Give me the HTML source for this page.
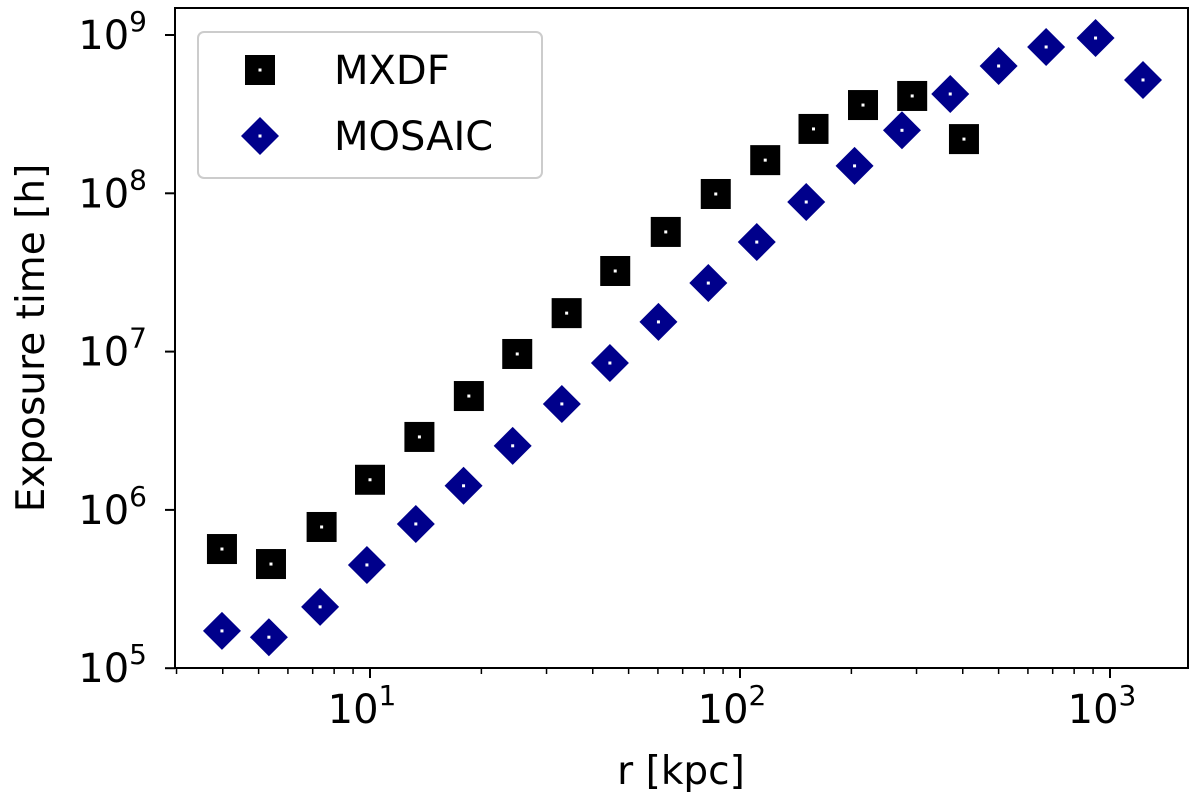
<!DOCTYPE html>
<html><head><meta charset="utf-8"><style>
body{margin:0;background:#fff;}
svg{display:block;font-family:"DejaVu Sans","Liberation Sans",sans-serif;}
</style></head><body>
<svg id="chart" width="1200" height="803"></svg>
<script>
const mxdfR=[3.98,5.4,7.4,10,13.6,18.5,25,34,46,63,86,117,158,215,292,403];
const mxdfT=[5.66e5,4.55e5,7.8e5,1.55e6,2.89e6,5.24e6,9.66e6,1.75e7,3.23e7,5.7e7,9.9e7,1.62e8,2.55e8,3.61e8,4.12e8,2.2e8];
const mosR=[3.98,5.33,7.33,9.81,13.3,17.9,24.3,33.0,44.5,60.2,82.1,111,151,204,274,370,500,672,914,1228];
const mosT=[1.72e5,1.57e5,2.44e5,4.49e5,8.15e5,1.42e6,2.54e6,4.67e6,8.47e6,1.54e7,2.71e7,4.92e7,8.81e7,1.49e8,2.5e8,4.24e8,6.37e8,8.4e8,9.57e8,5.2e8];
const xTicks=[1,2,3];
const yTicks=[5,6,7,8,9];
const NS="http://www.w3.org/2000/svg";
const svg=document.getElementById('chart');
function X(v){return 370+(Math.log10(v)-1)*370;}
function Y(v){return 35+(9-Math.log10(v))*158.3;}
function mk(t,a,p){const e=document.createElementNS(NS,t);for(const k in a)e.setAttribute(k,a[k]);(p||svg).appendChild(e);return e;}
const frame=mk('rect',{x:175,y:8,width:1013,height:660,fill:'none',stroke:'#000','stroke-width':2});


for(let d=0;d<=3;d++)for(let m=2;m<=9;m++){const v=m*Math.pow(10,d);const x=X(v);if(x<175||x>1188)continue;
 const t=mk('line',{x1:x,x2:x,y1:668,y2:674,stroke:'#000','stroke-width':1.5});
 
 }
xTicks.forEach(p=>{const x=X(Math.pow(10,p));
 const t=mk('line',{x1:x,x2:x,y1:668,y2:678,stroke:'#000','stroke-width':2});
 
 
 const l=mk('text',{x:x-8,y:723,'font-size':40,'text-anchor':'middle'});
 
 
 l.innerHTML='10<tspan dy="-18" font-size="28">'+p+'</tspan>';});
yTicks.forEach(p=>{const y=Y(Math.pow(10,p));
 const t=mk('line',{x1:165,x2:175,y1:y,y2:y,stroke:'#000','stroke-width':2});
 
 
 const l=mk('text',{x:147,y:y+14,'font-size':40,'text-anchor':'end'});
 
 
 l.innerHTML='10<tspan dy="-18" font-size="28">'+p+'</tspan>';});
const xl=mk('text',{x:681,y:784,'font-size':39,'text-anchor':'middle'});


xl.textContent='r [kpc]';
const yl=mk('text',{x:44,y:338,'font-size':39,'text-anchor':'middle',transform:'rotate(-90 44 338)'});


yl.textContent='Exposure time [h]';
function sq(x,y,p,name){const g=mk('g',{},p);
 
 
 mk('rect',{x:x-15,y:y-15,width:30,height:30,fill:'#000'},g);
 mk('rect',{x:x-1.5,y:y-1.5,width:3,height:3,fill:'#fff'},g);}
function di(x,y,p,name){const g=mk('g',{},p);
 
 
 mk('polygon',{points:`${x},${y-19} ${x+19},${y} ${x},${y+19} ${x-19},${y}`,fill:'#00008b'},g);
 mk('rect',{x:x-1.5,y:y-1.5,width:3,height:3,fill:'#fff'},g);}
mxdfR.forEach((r,i)=>sq(X(r),Y(mxdfT[i]),svg,'mxdf-point'));
mosR.forEach((r,i)=>di(X(r),Y(mosT[i]),svg,'mosaic-point'));
const lg=mk('g',{});


mk('rect',{x:198,y:32,width:344,height:146,rx:6,fill:'#fff','fill-opacity':0.8,stroke:'#ccc','stroke-width':2},lg);
sq(260,70,lg,'legend-mxdf-marker');
di(260,136,lg,'legend-mosaic-marker');
const t1=mk('text',{x:334,y:84,'font-size':40},lg);


t1.textContent='MXDF';
const t2=mk('text',{x:334,y:150,'font-size':40},lg);


t2.textContent='MOSAIC';
</script>
</body></html>
